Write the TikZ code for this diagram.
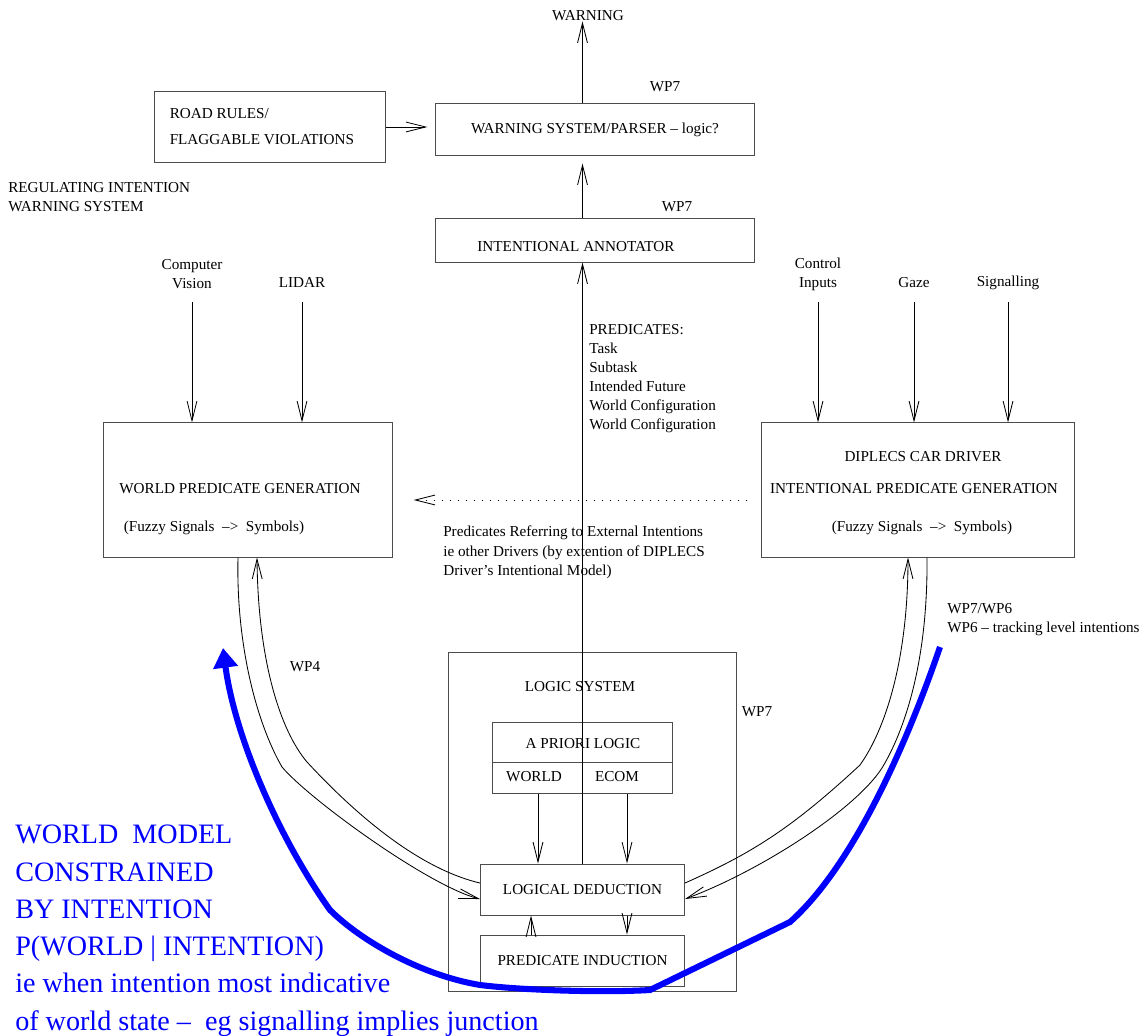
\documentclass[tikz,border=0pt]{standalone}
\usepackage{fontspec}
\setmainfont{Liberation Serif}
\usetikzlibrary{positioning}
\usetikzlibrary{calc}
\usetikzlibrary{arrows.meta}
\definecolor{intentblue}{RGB}{0,0,255}
\tikzset{
	block/.style={draw=black!70, line width=0.7pt, inner sep=0pt},
	note/.style={align=left, anchor=north west, inner sep=0pt},
	flow/.style={draw, line width=0.6pt, -{Straight Barb[length=14pt,width=7pt]}},
	dotted flow/.style={flow, dash pattern=on 0.7pt off 5pt},
	intention/.style={draw=intentblue, line width=4.3pt, -{Triangle[length=14pt,width=17pt]}},
	bigtext/.style={text=intentblue, font=\fontsize{20pt}{26.5pt}\selectfont, align=left, anchor=north west, inner sep=0pt}
}

\begin{document}
\begin{tikzpicture}[x=0.025cm, y=-0.025cm, every node/.style={font=\fontsize{10.8pt}{13.6pt}\selectfont, inner sep=0pt}]
	\useasboundingbox (0,0) rectangle (1146,1036);

	% warning output
	\node (warning) at (588,16) {WARNING};
	\node[block, minimum width=7.95cm, minimum height=1.275cm] (warnsys) at (595,129.5) {WARNING SYSTEM/PARSER – logic?};
	\node (wpa) at (665,87) {WP7};
	\node[block, minimum width=5.75cm, minimum height=1.75cm] (roadrules) at (270,127) {};
	\node[note, font=\fontsize{10.8pt}{18.4pt}\selectfont] at ($(roadrules.west)+(15,-19)$) {ROAD RULES/\\FLAGGABLE VIOLATIONS};
	\node[note] (regnote) at (8,182) {REGULATING INTENTION\\WARNING SYSTEM};

	\node[block, minimum width=7.95cm, minimum height=1.075cm] (annot) at (595,240.5) {};
	\node at (576,247) {INTENTIONAL ANNOTATOR};
	\node (wpb) at (677,207) {WP7};

	% sensor inputs
	\node[align=center] (cv) at (192,274) {Computer\\Vision};
	\node (lidar) at (302,283) {LIDAR};
	\node[align=center] (ctrl) at (818,274) {Control\\Inputs};
	\node (gaze) at (914,283) {Gaze};
	\node (signal) at (1008,283) {Signalling};
	\coordinate (intop) at (0,302);

	% predicate generation
	\node[block, minimum width=7.2cm, minimum height=3.35cm] (wpg) at (248,490) {};
	\node (wpgtitle) at (240,489) {WORLD PREDICATE GENERATION};
	\node (wpgfuzzy) at (214,528) {(Fuzzy Signals~ –>~ Symbols)};
	\node[block, minimum width=7.8cm, minimum height=3.35cm] (diplecs) at (918,490) {};
	\node (dipname) at (923,457) {DIPLECS CAR DRIVER};
	\node (diptitle) at (914,489) {INTENTIONAL PREDICATE GENERATION};
	\node (dipfuzzy) at (922,528) {(Fuzzy Signals~ –>~ Symbols)};

	\node[note] (predlist) at (589,324) {PREDICATES:\\Task\\Subtask\\Intended Future\\World Configuration\\World Configuration};
	\node[note] (extnote) at (443,526) {Predicates Referring to External Intentions\\ie other Drivers (by extention of DIPLECS\\Driver’s Intentional Model)};
	\node (wpd) at (305,667) {WP4};
	\node[note] (wpe) at (947,603) {WP7/WP6\\WP6 – tracking level intentions};

	% logic system
	\node[block, minimum width=7.175cm, minimum height=8.45cm] (logicsys) at (592.5,822) {};
	\node (logicname) at (580,687) {LOGIC SYSTEM};
	\node (wpc) at (757,712) {WP7};
	\node[block, minimum width=4.475cm, minimum height=1.75cm] (apriori) at (582.5,758) {};
	\draw[block] ($(apriori.west)+(0,4)$) -- ($(apriori.east)+(0,4)$);
	\draw[block] ($(apriori.center)+(0,4)$) -- (apriori.south);
	\node (aprioriname) at (583,744) {A PRIORI LOGIC};
	\node (world) at (534,777) {WORLD};
	\node (ecom) at (617,777) {ECOM};
	\node[block, minimum width=5.1cm, minimum height=1.275cm, below=1.75cm of apriori] (deduct) {LOGICAL DEDUCTION};
	\node[block, minimum width=5.1cm, minimum height=1.275cm, below=0.475cm of deduct] (induct) {PREDICATE INDUCTION};

	\node[bigtext] (constraint) at (15,825) {WORLD~ MODEL\\CONSTRAINED\\BY INTENTION\\P(WORLD | INTENTION)\\ie when intention most indicative\\of world state –~ eg signalling implies junction};

	% connectors
	\draw[flow] (warnsys.north -| deduct.north) -- (warning.south -| deduct.north);
	\draw[flow, shorten >=0.2cm] (annot.north -| deduct.north) -- (warnsys.south -| deduct.north);
	\draw[flow, shorten >=0.2cm] (roadrules.east) -- (roadrules.east -| warnsys.west);
	\draw[flow] (deduct.north) -- (annot.south -| deduct.north);
	\foreach \src in {cv,lidar}
		\draw[flow] (\src.south |- intop) -- (\src.south |- wpg.north);
	\foreach \src in {ctrl,gaze,signal}
		\draw[flow] (\src.south |- intop) -- (\src.south |- diplecs.north);
	\draw[dotted flow] ($(diplecs.west)+(-14,10)$) -- ($(wpg.east)+(21,10)$);

	\draw[flow] ($(apriori.south)+(-44.5,0)$) -- ($(deduct.north)+(-44.5,0)$);
	\draw[flow] ($(apriori.south)+(44.5,0)$) -- ($(deduct.north)+(44.5,0)$);
	\draw[flow] ($(deduct.south)+(44.5,0)$) -- ($(induct.north)+(44.5,0)$);
	\draw[flow] ($(induct.north)+(-51.5,0)$) -- ($(deduct.south)+(-51.5,0)$);

	\draw[flow] ($(wpg.south)+(-10,0)$) .. controls +(-2,83) and +(-27,-47) .. (282,767) .. controls +(28,33) and +(-51,-13) .. ($(deduct.west)+(0,9.5)$);
	\draw[flow] ($(deduct.west)+(0,-6.5)$) .. controls +(-51,-12) and +(63,68) .. (307,762) .. controls +(-27,-32) and +(1,103) .. ($(wpg.south)+(9,0)$);
	\draw[flow] ($(deduct.east)+(0,-6.5)$) .. controls +(65,-29) and +(-70,65) .. (860,765) .. controls +(25,-35) and +(0,103) .. ($(diplecs.south)+(-10,0)$);
	\draw[flow] ($(diplecs.south)+(9,0)$) .. controls +(1,103) and +(23,-38) .. (882,768) .. controls +(-27,42) and +(75,-28) .. ($(deduct.east)+(0,9.5)$);

	% intention feedback
	\coordinate (bluestart) at (940,647);
	\coordinate (bluetip) at (223,648);
	\draw[intention] (bluestart) .. controls +(-25,73) and +(70,-62) .. (790,922) -- (650,990) .. controls +(-50,3) and +(40,5) .. (480,985) .. controls +(-60,-10) and +(30,30) .. (330,910) .. controls +(-50,-70) and +(12,90) .. (bluetip);
\end{tikzpicture}
\end{document}
